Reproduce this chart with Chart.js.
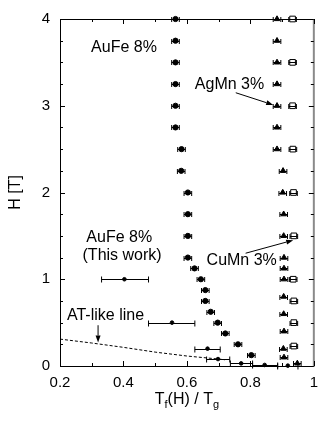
<!DOCTYPE html>
<html>
<head>
<meta charset="utf-8">
<script src="https://cdn.jsdelivr.net/npm/chart.js@4/dist/chart.umd.min.js"></script>
<style>
  html, body { margin: 0; padding: 0; background: #fff; }
  #wrap { width: 326px; height: 422px; }
</style>
</head>
<body>
<div id="wrap"><canvas id="myChart" width="326" height="422"></canvas></div>
<script>
const FONT = "'Liberation Sans', Arial, Helvetica, sans-serif"

// AuFe 8% (literature), circles
const aufeH = [4, 3.75, 3.5, 3.25, 3, 2.75, 2.5, 2.25, 2, 1.75, 1.5, 1.25, 1.125, 1, 0.875, 0.75, 0.625, 0.5, 0.375, 0.25, 0.125]
const aufeT = [0.564, 0.564, 0.564, 0.564, 0.564, 0.564, 0.583, 0.582, 0.603, 0.603, 0.603, 0.603, 0.624, 0.644, 0.658, 0.658, 0.675, 0.697, 0.721, 0.761, 0.803]
const aufeErr = 0.012

// AgMn 3%, triangles
const agmnH = [4, 3.75, 3.5, 3.25, 3, 2.75, 2.5, 2.25, 2, 1.75, 1.5, 1.25, 1.125, 1, 0.8, 0.6, 0.4, 0.2, 0.1, 0.03]
const agmnT = [0.884, 0.884, 0.884, 0.884, 0.884, 0.884, 0.884, 0.903, 0.902, 0.905, 0.905, 0.906, 0.906, 0.906, 0.905, 0.905, 0.906, 0.904, 0.906, 0.948]
const agmnErr = 0.012

// CuMn 3%, open squares
const cumnH = [4, 3.5, 3, 2.5, 2, 1.5, 1, 0.75, 0.5, 0.23]
const cumnT = [0.933, 0.933, 0.933, 0.934, 0.936, 0.937, 0.935, 0.937, 0.937, 0.937]
const cumnErr = 0.012

// AuFe 8% (this work), dots with wide error bars
const workH = [1, 0.5, 0.2, 0.08, 0.03, 0.012, 0.004]
const workT = [0.403, 0.553, 0.665, 0.698, 0.771, 0.845, 0.918]
const workLo = [0.331, 0.479, 0.625, 0.662, 0.737, 0.807, 0.886]
const workHi = [0.479, 0.625, 0.705, 0.735, 0.807, 0.886, 0.95]

// AT-like line
const atT = [0.2, 0.3, 0.4, 0.5, 0.6, 0.7, 0.72]
const atH = [0.31, 0.265, 0.215, 0.16, 0.115, 0.08, 0.072]

// ticks
const xMajor = [0.2, 0.4, 0.6, 0.8, 1]
const xLabels = ['0.2', '0.4', '0.6', '0.8', '1']
const xMinor = [0.3, 0.5, 0.7, 0.9]
const yMajor = [0, 1, 2, 3, 4]
const yLabels = ['0', '1', '2', '3', '4']
const yMinor = [0.25, 0.5, 0.75, 1.25, 1.5, 1.75, 2.25, 2.5, 2.75, 3.25, 3.5, 3.75]

const pts = (xs, ys) => xs.map((v, i) => ({ x: v, y: ys[i] }))

const errSets = [
  { t: aufeT, h: aufeH, lo: aufeT.map((v) => v - aufeErr), hi: aufeT.map((v) => v + aufeErr), cap: 2.5 },
  { t: agmnT, h: agmnH, lo: agmnT.map((v) => v - agmnErr), hi: agmnT.map((v) => v + agmnErr), cap: 2.5 },
  { t: cumnT, h: cumnH, lo: cumnT.map((v) => v - cumnErr), hi: cumnT.map((v) => v + cumnErr), cap: 2.5 },
  { t: workT, h: workH, lo: workLo, hi: workHi, cap: 3 },
]

function arrow(ctx, x0, y0, x1, y1) {
  const a = Math.atan2(y1 - y0, x1 - x0)
  const L = 7, W = 2.5
  ctx.beginPath()
  ctx.moveTo(x0, y0)
  ctx.lineTo(x1 - L * Math.cos(a), y1 - L * Math.sin(a))
  ctx.stroke()
  ctx.beginPath()
  ctx.moveTo(x1, y1)
  ctx.lineTo(x1 - L * Math.cos(a) + W * Math.sin(a), y1 - L * Math.sin(a) - W * Math.cos(a))
  ctx.lineTo(x1 - L * Math.cos(a) - W * Math.sin(a), y1 - L * Math.sin(a) + W * Math.cos(a))
  ctx.closePath()
  ctx.fill()
}

const decor = {
  id: 'decor',
  beforeDatasetsDraw(chart) {
    const { ctx, scales: { x, y } } = chart
    ctx.save()
    ctx.strokeStyle = '#000'
    ctx.lineWidth = 1
    errSets.forEach((s) => {
      s.t.forEach((t, i) => {
        const py = Math.round(y.getPixelForValue(s.h[i])) + 0.5
        const x0 = x.getPixelForValue(s.lo[i])
        const x1 = x.getPixelForValue(s.hi[i])
        ctx.beginPath()
        ctx.moveTo(x0, py); ctx.lineTo(x1, py)
        ctx.moveTo(x0, py - s.cap); ctx.lineTo(x0, py + s.cap)
        ctx.moveTo(x1, py - s.cap); ctx.lineTo(x1, py + s.cap)
        ctx.stroke()
      })
    })
    ctx.restore()
  },
  afterDraw(chart) {
    const { ctx, chartArea: a, scales: { x, y } } = chart
    ctx.save()
    // frame
    ctx.strokeStyle = '#000'
    ctx.lineWidth = 1
    ctx.beginPath()
    ctx.moveTo(a.right, a.top + 0.5)
    ctx.lineTo(a.left + 0.5, a.top + 0.5)
    ctx.lineTo(a.left + 0.5, a.bottom + 0.5)
    ctx.lineTo(a.right, a.bottom + 0.5)
    ctx.stroke()
    ctx.strokeStyle = '#8a8a8a'
    ctx.lineWidth = 2
    ctx.beginPath()
    ctx.moveTo(a.right, a.top)
    ctx.lineTo(a.right, a.bottom + 1)
    ctx.stroke()
    // inward ticks
    ctx.strokeStyle = '#000'
    ctx.lineWidth = 1
    ctx.beginPath()
    const xt = (v, len) => {
      const px = Math.round(x.getPixelForValue(v)) + 0.5
      ctx.moveTo(px, a.bottom); ctx.lineTo(px, a.bottom - len)
      ctx.moveTo(px, a.top); ctx.lineTo(px, a.top + len)
    }
    const yt = (v, len) => {
      const py = Math.round(y.getPixelForValue(v)) + 0.5
      ctx.moveTo(a.left, py); ctx.lineTo(a.left + len, py)
      ctx.moveTo(a.right, py); ctx.lineTo(a.right - len, py)
    }
    xMajor.forEach((v) => xt(v, 5))
    xMinor.forEach((v) => xt(v, 3))
    yMajor.forEach((v) => yt(v, 5))
    yMinor.forEach((v) => yt(v, 3))
    ctx.stroke()

    // axis titles
    ctx.fillStyle = '#000'
    ctx.font = '16px ' + FONT
    ctx.textBaseline = 'middle'
    ctx.textAlign = 'center'
    ctx.save()
    ctx.translate(16, (a.top + a.bottom) / 2)
    ctx.rotate(-Math.PI / 2)
    ctx.fillText('H [T]', 0, 0)
    ctx.restore()

    const parts = [['T', 0], ['f', 1], ['(H) / T', 0], ['g', 1]]
    const big = '16px ' + FONT, small = '11px ' + FONT
    let w = 0
    parts.forEach(([t, s]) => { ctx.font = s ? small : big; w += ctx.measureText(t).width })
    let cx = (a.left + a.right) / 2 - w / 2
    const cy = 404
    ctx.textAlign = 'left'
    ctx.textBaseline = 'alphabetic'
    parts.forEach(([t, s]) => {
      ctx.font = s ? small : big
      ctx.fillText(t, cx, s ? cy + 4 : cy)
      cx += ctx.measureText(t).width
    })

    // annotations
    ctx.font = '16px ' + FONT
    ctx.textBaseline = 'middle'
    const txt = (s, tx, ty) => ctx.fillText(s, x.getPixelForValue(tx), y.getPixelForValue(ty))
    txt('AuFe 8%', 0.298, 3.67)
    txt('AgMn 3%', 0.625, 3.24)
    txt('AuFe 8%', 0.283, 1.48)
    txt('(This work)', 0.271, 1.27)
    txt('CuMn 3%', 0.662, 1.215)
    txt('AT-like line', 0.222, 0.58)
    ctx.lineWidth = 1
    const arr = (t0, h0, t1, h1) => arrow(ctx, x.getPixelForValue(t0), y.getPixelForValue(h0), x.getPixelForValue(t1), y.getPixelForValue(h1))
    arr(0.754, 3.15, 0.872, 3.01)
    arr(0.785, 1.30, 0.935, 1.45)
    arr(0.320, 0.47, 0.320, 0.27)
    ctx.restore()
  },
}

;(() => {
  const ctx = document.getElementById('myChart').getContext('2d')
  new Chart(ctx, {
    type: 'scatter',
    data: {
      datasets: [
        {
          label: 'AT-like line',
          data: pts(atT, atH),
          showLine: true,
          borderColor: '#000',
          borderWidth: 1,
          borderDash: [3, 2],
          pointRadius: 0,
          fill: false,
        },
        {
          label: 'AuFe 8%',
          data: pts(aufeT, aufeH),
          pointStyle: 'circle',
          pointRadius: 2.6,
          backgroundColor: '#000',
          borderColor: '#000',
          borderWidth: 1,
          clip: false,
        },
        {
          label: 'AgMn 3%',
          data: pts(agmnT, agmnH),
          pointStyle: 'triangle',
          pointRadius: 3.2,
          backgroundColor: '#000',
          borderColor: '#000',
          borderWidth: 1,
          clip: false,
        },
        {
          label: 'CuMn 3%',
          data: pts(cumnT, cumnH),
          pointStyle: 'rect',
          pointRadius: 4,
          backgroundColor: 'rgba(0,0,0,0)',
          borderColor: '#000',
          borderWidth: 1,
          clip: false,
        },
        {
          label: 'AuFe 8% (This work)',
          data: pts(workT, workH),
          pointStyle: 'circle',
          pointRadius: 1.8,
          backgroundColor: '#000',
          borderColor: '#000',
          borderWidth: 1,
          clip: false,
        },
      ],
    },
    options: {
      responsive: false,
      animation: false,
      devicePixelRatio: 1,
      layout: { padding: { top: 13, right: 6, left: 0, bottom: 0 } },
      plugins: { legend: { display: false }, tooltip: { enabled: false } },
      scales: {
        x: {
          type: 'linear',
          min: 0.2,
          max: 1,
          grid: { display: false, drawTicks: false },
          border: { display: false },
          afterBuildTicks: (s) => { s.ticks = xMajor.map((v) => ({ value: v })) },
          afterFit: (s) => { s.height = 56 },
          ticks: {
            padding: 8,
            color: '#000',
            font: { family: FONT, size: 15 },
            callback: (v) => xLabels[xMajor.findIndex((m) => Math.abs(m - v) < 1e-6)],
          },
        },
        y: {
          type: 'linear',
          min: 0,
          max: 4,
          grid: { display: false, drawTicks: false },
          border: { display: false },
          afterBuildTicks: (s) => { s.ticks = yMajor.map((v) => ({ value: v })) },
          afterFit: (s) => { s.width = 60 },
          ticks: {
            padding: 10,
            color: '#000',
            font: { family: FONT, size: 15 },
            callback: (v) => yLabels[yMajor.findIndex((m) => Math.abs(m - v) < 1e-6)],
          },
        },
      },
    },
    plugins: [decor],
  })
})()
</script>
</body>
</html>
